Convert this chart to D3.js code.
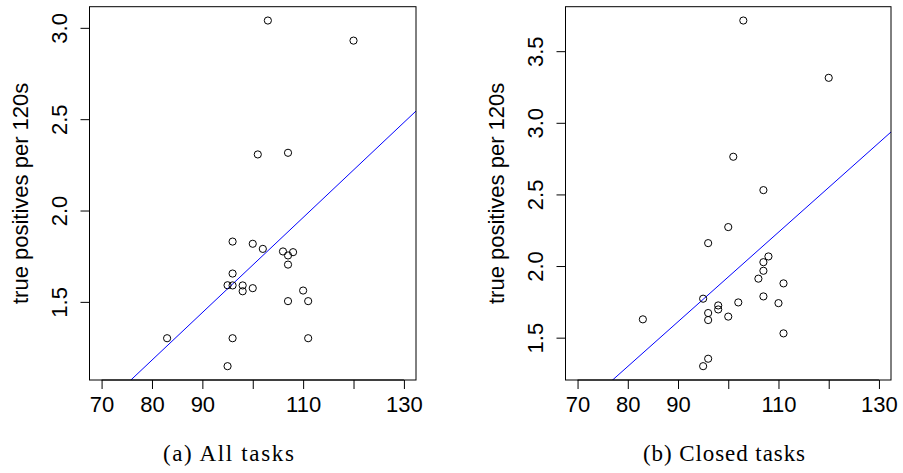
<!DOCTYPE html>
<html>
<head>
<meta charset="utf-8">
<script src="https://cdn.jsdelivr.net/npm/d3@7/dist/d3.min.js"></script>
<style>
  body { margin: 0; background: #fff; }
  svg { display: block; }
  .tick text, .ylab { font-family: "Liberation Sans", Arial, sans-serif; }
  .cap { font-family: "Liberation Serif", "Times New Roman", serif; }
</style>
</head>
<body>
<svg id="chart" width="903" height="473"></svg>
<script>
// x = score, y = true positives per 120s
var allX = [103, 120, 101, 107, 96, 100, 102, 106, 108, 107, 107, 96,
            95, 96, 98, 98, 100, 110, 107, 111, 83, 96, 111, 95];
var allY = [3.04, 2.93, 2.307, 2.316, 1.83, 1.818, 1.79, 1.776, 1.772, 1.754, 1.704, 1.655,
            1.591, 1.59, 1.59, 1.558, 1.575, 1.562, 1.504, 1.504, 1.301, 1.301, 1.301, 1.148];

var closedX = [103, 120, 101, 107, 100, 96, 108, 107, 107, 106, 111, 107,
               95, 102, 110, 98, 98, 96, 100, 96, 83, 111, 96, 95];
var closedY = [3.714, 3.314, 2.763, 2.53, 2.272, 2.16, 2.067, 2.027, 1.967, 1.912, 1.879, 1.788,
               1.772, 1.746, 1.741, 1.725, 1.697, 1.672, 1.647, 1.623, 1.628, 1.53, 1.353, 1.301];

var xTicks = [70, 80, 90, 100, 110, 120, 130];
var xTickLabels = [70, 80, 90, 110, 130]; // R drops the ones that would overlap
var allYTicks = [1.5, 2.0, 2.5, 3.0];
var closedYTicks = [1.5, 2.0, 2.5, 3.0, 3.5];
var xlim = [70, 130];

var yTitle = "true positives per 120s";
var captions = ["(a) All tasks", "(b) Closed tasks"];

var svg = d3.select("#chart");
var top_ = 6.7, bottom = 380;

// R style 4% padding
function pad(lo, hi) {
    var d = (hi - lo) * 0.04;
    return [lo - d, hi + d];
}

function lm(xs, ys) {
    var mx = d3.mean(xs), my = d3.mean(ys);
    var sxy = 0, sxx = 0;
    for (var i = 0; i < xs.length; i++) {
        sxy += (xs[i] - mx) * (ys[i] - my);
        sxx += (xs[i] - mx) * (xs[i] - mx);
    }
    var b = sxy / sxx;
    return { a: my - b * mx, b: b };
}

function panel(id, left, right, xs, ys, yTicks, caption, capX, capW) {
    var g = svg.append("g");
    var x = d3.scaleLinear().domain(pad(xlim[0], xlim[1])).range([left, right]);
    var y = d3.scaleLinear().domain(pad(d3.min(ys), d3.max(ys))).range([bottom, top_]);

    g.append("clipPath").attr("id", "clip" + id)
        .append("rect")
        .attr("x", left).attr("y", top_)
        .attr("width", right - left).attr("height", bottom - top_);

    // regression line, like abline(lm(y ~ x))
    var fit = lm(xs, ys);
    var xd = x.domain();
    g.append("line")
        .attr("clip-path", "url(#clip" + id + ")")
        .attr("x1", x(xd[0])).attr("y1", y(fit.a + fit.b * xd[0]))
        .attr("x2", x(xd[1])).attr("y2", y(fit.a + fit.b * xd[1]))
        .attr("stroke", "#0000ff").attr("stroke-width", 1);

    g.selectAll("circle.pt").data(d3.range(xs.length)).enter()
        .append("circle").attr("class", "pt")
        .attr("cx", function (i) { return x(xs[i]); })
        .attr("cy", function (i) { return y(ys[i]); })
        .attr("r", 3.6)
        .attr("fill", "none").attr("stroke", "#000").attr("stroke-width", 1);

    g.append("rect")
        .attr("x", left).attr("y", top_)
        .attr("width", right - left).attr("height", bottom - top_)
        .attr("fill", "none").attr("stroke", "#000").attr("stroke-width", 1);

    // x axis
    var xAxis = d3.axisBottom(x).tickValues(xTicks).tickSize(9).tickPadding(7)
        .tickFormat(function (d) { return xTickLabels.indexOf(d) >= 0 ? d : ""; });
    var gx = g.append("g").attr("transform", "translate(0," + bottom + ")").call(xAxis);
    gx.select(".domain").remove();
    gx.append("line").attr("x1", x(xTicks[0])).attr("x2", x(xTicks[xTicks.length - 1]))
        .attr("stroke", "#000");
    gx.selectAll("text").attr("font-size", 22).attr("fill", "#000");

    // y axis, labels turned like R's las=0
    var yAxis = d3.axisLeft(y).tickValues(yTicks).tickSize(9)
        .tickFormat(d3.format(".1f"));
    var gy = g.append("g").attr("transform", "translate(" + left + ",0)").call(yAxis);
    gy.select(".domain").remove();
    gy.append("line").attr("y1", y(yTicks[0])).attr("y2", y(yTicks[yTicks.length - 1]))
        .attr("stroke", "#000");
    gy.selectAll(".tick text")
        .attr("x", 0).attr("dy", null)
        .attr("text-anchor", "middle")
        .attr("font-size", 22).attr("fill", "#000")
        .attr("transform", "translate(-23,0) rotate(-90)");

    g.append("text").attr("class", "ylab")
        .attr("transform", "translate(" + (left - 61.5) + "," + ((top_ + bottom) / 2) + ") rotate(-90)")
        .attr("text-anchor", "middle")
        .attr("font-size", 22)
        .text(yTitle);

    // subfigure caption (sits under the whole subfigure, not just the plot box)
    g.append("text").attr("class", "cap")
        .attr("x", capX).attr("y", 461)
        .attr("text-anchor", "middle")
        .attr("font-size", 23)
        .attr("textLength", capW).attr("lengthAdjust", "spacing")
        .text(caption);
}

panel("a", 89.5, 416, allX, allY, allYTicks, captions[0], 228.4, 131);
panel("b", 565.5, 891, closedX, closedY, closedYTicks, captions[1], 724, 162);
</script>
</body>
</html>
